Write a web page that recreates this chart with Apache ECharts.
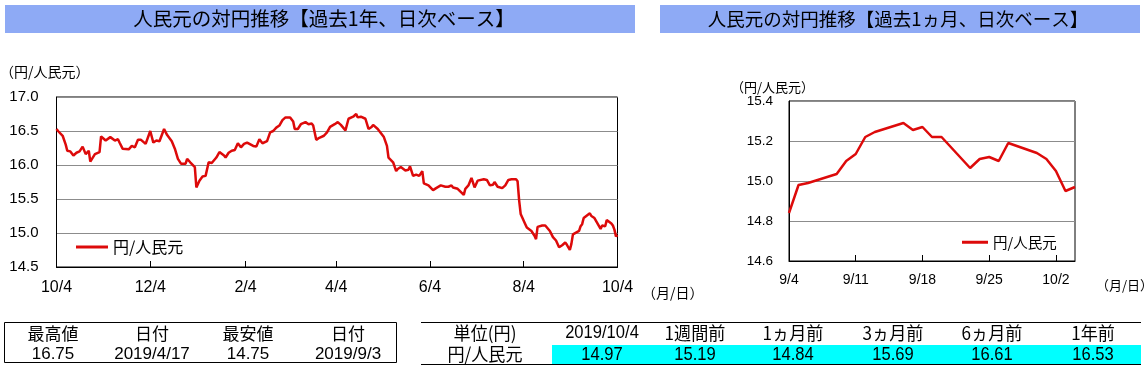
<!DOCTYPE html>
<html><head><meta charset="utf-8">
<script src="https://cdn.jsdelivr.net/npm/echarts@6/dist/echarts.min.js"></script>
<style>html,body{margin:0;padding:0;background:#fff}#c{width:1146px;height:368px}</style>
</head><body><div id="c"></div>
<script>
// ---- data ----
const yearDates = ['2018-10-04','2018-10-05','2018-10-08','2018-10-10','2018-10-11','2018-10-13','2018-10-15','2018-10-17','2018-10-19','2018-10-21','2018-10-23','2018-10-25','2018-10-26','2018-10-29','2018-11-01','2018-11-02','2018-11-05','2018-11-08','2018-11-11','2018-11-13','2018-11-14','2018-11-16','2018-11-20','2018-11-22','2018-11-24','2018-11-26','2018-11-28','2018-12-01','2018-12-04','2018-12-06','2018-12-08','2018-12-10','2018-12-13','2018-12-15','2018-12-18','2018-12-20','2018-12-22','2018-12-24','2018-12-27','2018-12-28','2018-12-30','2019-01-02','2019-01-03','2019-01-05','2019-01-07','2019-01-09','2019-01-11','2019-01-13','2019-01-16','2019-01-18','2019-01-21','2019-01-22','2019-01-24','2019-01-26','2019-01-28','2019-01-30','2019-02-01','2019-02-03','2019-02-05','2019-02-06','2019-02-09','2019-02-11','2019-02-13','2019-02-15','2019-02-18','2019-02-20','2019-02-22','2019-02-24','2019-02-26','2019-02-28','2019-03-02','2019-03-05','2019-03-07','2019-03-08','2019-03-10','2019-03-12','2019-03-15','2019-03-17','2019-03-19','2019-03-20','2019-03-22','2019-03-24','2019-03-27','2019-03-29','2019-03-31','2019-04-03','2019-04-05','2019-04-07','2019-04-10','2019-04-12','2019-04-15','2019-04-17','2019-04-18','2019-04-20','2019-04-23','2019-04-25','2019-04-27','2019-04-28','2019-05-01','2019-05-02','2019-05-05','2019-05-07','2019-05-08','2019-05-09','2019-05-11','2019-05-13','2019-05-14','2019-05-16','2019-05-19','2019-05-21','2019-05-22','2019-05-24','2019-05-26','2019-05-28','2019-05-30','2019-05-31','2019-06-03','2019-06-06','2019-06-08','2019-06-11','2019-06-14','2019-06-16','2019-06-18','2019-06-19','2019-06-22','2019-06-26','2019-06-27','2019-06-29','2019-07-01','2019-07-03','2019-07-05','2019-07-09','2019-07-11','2019-07-13','2019-07-15','2019-07-16','2019-07-18','2019-07-21','2019-07-23','2019-07-25','2019-07-27','2019-07-30','2019-07-31','2019-08-01','2019-08-02','2019-08-05','2019-08-06','2019-08-07','2019-08-09','2019-08-11','2019-08-12','2019-08-13','2019-08-16','2019-08-18','2019-08-19','2019-08-21','2019-08-23','2019-08-25','2019-08-27','2019-08-29','2019-08-31','2019-09-01','2019-09-03','2019-09-04','2019-09-05','2019-09-06','2019-09-09','2019-09-10','2019-09-11','2019-09-12','2019-09-13','2019-09-16','2019-09-17','2019-09-18','2019-09-19','2019-09-20','2019-09-23','2019-09-24','2019-09-25','2019-09-26','2019-09-27','2019-09-30','2019-10-01','2019-10-02','2019-10-03','2019-10-04'];
const yearValues = [16.53,16.50,16.43,16.30,16.21,16.20,16.14,16.18,16.20,16.27,16.16,16.21,16.05,16.16,16.19,16.42,16.36,16.41,16.36,16.38,16.33,16.24,16.23,16.28,16.26,16.37,16.37,16.31,16.50,16.33,16.36,16.35,16.53,16.44,16.35,16.24,16.09,16.02,16.02,16.09,16.04,15.97,15.67,15.77,15.83,15.84,16.04,16.03,16.11,16.19,16.14,16.11,16.18,16.21,16.22,16.32,16.26,16.31,16.33,16.31,16.28,16.27,16.38,16.32,16.35,16.48,16.50,16.55,16.58,16.66,16.70,16.70,16.64,16.53,16.53,16.60,16.63,16.60,16.61,16.58,16.37,16.40,16.43,16.48,16.56,16.60,16.63,16.59,16.51,16.68,16.71,16.75,16.70,16.71,16.68,16.53,16.56,16.59,16.53,16.51,16.41,16.28,16.11,16.09,16.04,15.91,15.94,15.97,15.92,15.93,15.98,15.84,15.86,15.84,15.91,15.73,15.70,15.63,15.66,15.70,15.68,15.68,15.70,15.67,15.65,15.56,15.65,15.70,15.81,15.67,15.77,15.79,15.78,15.70,15.71,15.75,15.68,15.66,15.70,15.78,15.79,15.79,15.76,15.48,15.28,15.13,15.08,15.06,15.03,14.96,14.91,15.09,15.11,15.11,15.09,15.03,14.94,14.89,14.79,14.82,14.86,14.83,14.75,14.84,14.98,14.99,15.03,15.10,15.13,15.22,15.24,15.29,15.25,15.27,15.22,15.22,15.06,15.11,15.12,15.10,15.19,15.14,15.11,15.05,14.95,14.97];
const monthDates = ['2019-09-04','2019-09-05','2019-09-06','2019-09-09','2019-09-10','2019-09-11','2019-09-12','2019-09-13','2019-09-16','2019-09-17','2019-09-18','2019-09-19','2019-09-20','2019-09-23','2019-09-24','2019-09-25','2019-09-26','2019-09-27','2019-09-30','2019-10-01','2019-10-02','2019-10-03','2019-10-04'];
const monthValues = [14.84,14.98,14.99,15.035,15.10,15.135,15.22,15.245,15.29,15.255,15.27,15.22,15.22,15.065,15.11,15.12,15.10,15.19,15.14,15.11,15.05,14.95,14.97];
const yearTicks = ['2018-10-04','2018-12-04','2019-02-04','2019-04-04','2019-06-04','2019-08-04','2019-10-04'];
const monthTicks = ['2019-09-04','2019-09-11','2019-09-18','2019-09-25','2019-10-02'];
const seriesName = '円/人民元';
const titleYear = '人民元の対円推移【過去1年、日次ベース】';
const titleMonth = '人民元の対円推移【過去1ヵ月、日次ベース】';
const unitLabel = '（円/人民元）';
const dateUnitLabel = '（月/日）';
const summaryHeaders = ['最高値','日付','最安値','日付'];
const summaryValues = ['16.75','2019/4/17','14.75','2019/9/3'];
const compareHeaders = ['単位(円)','2019/10/4','1週間前','1ヵ月前','3ヵ月前','6ヵ月前','1年前'];
const compareRowLabel = '円/人民元';
const compareValues = ['14.97','15.19','14.84','15.69','16.61','16.53'];

// ---- helpers ----
function ts(s){const p=s.split('-').map(Number);return new Date(p[0],p[1]-1,p[2]).getTime();}
function md(v){const d=new Date(v);return (d.getMonth()+1)+'/'+d.getDate();}
const NUM = "'Liberation Sans', Arial, sans-serif";
const JP = "'Noto Sans CJK JP', sans-serif";
const RED = '#dd0a0a';

const chart = echarts.init(document.getElementById('c'), null, {renderer:'canvas'});

const graphics = [];
function rect(x,y,w,h,fill,stroke){graphics.push({type:'rect',silent:true,shape:{x,y,width:w,height:h},style:{fill:fill||'none',stroke:stroke||null,lineWidth:1}});}
function line(x1,y1,x2,y2,w){graphics.push({type:'line',silent:true,shape:{x1,y1,x2,y2},style:{stroke:'#000',lineWidth:w||1}});}
function text(t,x,y,size,font,align,sx){graphics.push({type:'text',silent:true,x,y,scaleX:sx||1,style:{text:t,fontSize:size,fontFamily:font,fill:'#000',align:align||'center',verticalAlign:'middle'}});}

// title bars
rect(5,5,630,28,'#8eaaf5');
rect(660,5,480,28,'#8eaaf5');
text(titleYear,324,19,19.5,JP);
text(titleMonth,898,19,18.5,JP);
// unit labels
text(unitLabel,0,72,14,JP,'left');
text(unitLabel,731,87,13,JP,'left');
text(dateUnitLabel,642,293,14,JP,'left');
text(dateUnitLabel,1096,285,13,JP,'left');

// left table
const sumCenters=[53,152,248,348];
rect(4.5,322.5,392,40,'none','#000');
summaryHeaders.forEach((h,i)=>text(h,sumCenters[i],334,17,JP));
summaryValues.forEach((v,i)=>text(v,sumCenters[i],354,17,NUM));

// right table
const cmpCenters=[485,602,695,793,893,992,1093];
rect(552,345,589,19,'#00ffff');
line(421,322.5,1141,322.5);
line(421,364.5,1141,364.5);
compareHeaders.forEach((h,i)=>text(h,cmpCenters[i],333,i===1?18:18,i===1?NUM:JP,'center',i===1?0.92:0.95));
text(compareRowLabel,cmpCenters[0],354,18,JP,'center',0.95);
compareValues.forEach((v,i)=>text(v,cmpCenters[i+1],355,18,NUM,'center',0.92));

const axisLabelStyle = {color:'#000',fontFamily:NUM};

const option = {
  animation:false,
  backgroundColor:'#fff',
  grid:[
    {left:56.5,top:97,width:561,height:170,show:true,borderColor:'#000',borderWidth:1,backgroundColor:'transparent'},
    {left:789,top:101,width:286,height:160,show:true,borderColor:'#000',borderWidth:1,backgroundColor:'transparent'}
  ],
  xAxis:[
    {type:'value',gridIndex:0,min:ts(yearTicks[0]),max:ts(yearTicks[yearTicks.length-1]),
     axisLine:{show:true,onZero:false,lineStyle:{color:'#000'}},
     axisTick:{show:true,inside:true,length:6,lineStyle:{color:'#000'},customValues:yearTicks.map(ts)},
     axisLabel:Object.assign({fontSize:16,margin:13,customValues:yearTicks.map(ts),formatter:md},axisLabelStyle),
     splitLine:{show:false}},
    {type:'value',gridIndex:1,min:ts(monthTicks[0]),max:ts('2019-10-04'),
     axisLine:{show:true,onZero:false,lineStyle:{color:'#000'}},
     axisTick:{show:true,inside:true,length:6,lineStyle:{color:'#000'},customValues:monthTicks.map(ts)},
     axisLabel:Object.assign({fontSize:14,margin:12,customValues:monthTicks.map(ts),formatter:md},axisLabelStyle),
     splitLine:{show:false}}
  ],
  yAxis:[
    {type:'value',gridIndex:0,min:14.5,max:17.0,interval:0.5,
     axisLine:{show:true,lineStyle:{color:'#000'}},axisTick:{show:false},
     axisLabel:Object.assign({fontSize:15,margin:18,formatter:v=>v.toFixed(1)},axisLabelStyle),
     splitLine:{show:true,lineStyle:{color:'#8c8c8c',width:1}}},
    {type:'value',gridIndex:1,min:14.6,max:15.4,interval:0.2,
     axisLine:{show:true,lineStyle:{color:'#000'}},axisTick:{show:false},
     axisLabel:Object.assign({fontSize:13.5,margin:16,formatter:v=>v.toFixed(1)},axisLabelStyle),
     splitLine:{show:true,lineStyle:{color:'#8c8c8c',width:1}}}
  ],
  legend:[
    {left:71,top:234,itemWidth:32,itemHeight:3,icon:'rect',selectedMode:false,
     textStyle:{fontSize:16,fontFamily:JP,color:'#000'},data:[{name:seriesName,itemStyle:{color:RED}}]},
    {left:957,top:230,itemWidth:26,itemHeight:3,icon:'rect',selectedMode:false,
     textStyle:{fontSize:14.5,fontFamily:JP,color:'#000'},data:[{name:seriesName,itemStyle:{color:RED}}]}
  ],
  series:[
    {name:seriesName,type:'line',xAxisIndex:0,yAxisIndex:0,showSymbol:false,
     lineStyle:{color:RED,width:2.5},itemStyle:{color:RED},
     data:yearDates.map((d,i)=>[ts(d),yearValues[i]])},
    {name:seriesName,type:'line',xAxisIndex:1,yAxisIndex:1,showSymbol:false,
     lineStyle:{color:RED,width:2.5},itemStyle:{color:RED},
     data:monthDates.map((d,i)=>[ts(d),monthValues[i]])}
  ],
  graphic:graphics
};
chart.setOption(option);
</script>
</body></html>
